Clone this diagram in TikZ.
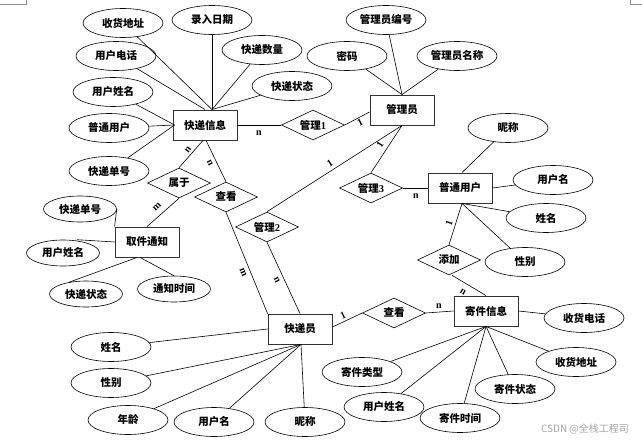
\documentclass[tikz,border=0pt]{standalone}
\usepackage{fontspec}
\setmainfont{Noto Sans CJK SC}
\newfontfamily\lat{Liberation Serif}
\usetikzlibrary{shapes.geometric}
\newcommand\zhf{\fontsize{10.5}{12}\selectfont\bfseries}
\tikzset{
 ent/.style={draw=black!80, line width=0.9pt, minimum width=64pt, minimum height=30pt, inner sep=0pt, font=\zhf},
 rel/.style={diamond, draw, line width=0.6pt, minimum width=63pt, minimum height=30pt, aspect=2.1, inner sep=0pt, font=\zhf},
 attr/.style={ellipse, draw, line width=0.6pt, minimum width=80pt, minimum height=29pt, inner sep=0pt, font=\zhf},
 attrs/.style={attr, minimum width=73pt, minimum height=26pt},
 lnk/.style={line width=0.6pt},
 card/.style={font=\lat\bfseries\fontsize{10}{10}\selectfont, inner sep=0pt},
 cornermk/.style={draw=black!45, line width=0.6pt},
}
\begin{document}
\begin{tikzpicture}[x=1pt,y=-1pt]
\useasboundingbox (0,0) rectangle (642,441);
\fill[white] (0,0) rectangle (642,441);
% corner marks
\draw[cornermk] (0,4) -- (26,4) -- (26,0);
\draw[cornermk] (630,0) -- (630,4.5) -- (642,4.5);
% entities
\node[ent] (kdxx) at (205,125) {快递信息};
\node[ent] (gly) at (402,110) {管理员};
\node[ent] (ptyh) at (460,188) {普通用户};
\node[ent] (jjxx) at (486,311) {寄件信息};
\node[ent] (kdy) at (300,329) {快递员};
\node[ent] (qjtz) at (147,242) {取件通知};
% relations
\node[rel] (gl1) at (313,125) {管理{\lat 1}};
\node[rel] (gl3) at (371,188) {管理{\lat 3}};
\node[rel] (gl2) at (267,227) {管理{\lat 2}};
\node[rel] (sy) at (179,183) {属于};
\node[rel] (ck1) at (226,197) {查看};
\node[rel] (ck2) at (394,313) {查看};
\node[rel] (tj) at (449,260) {添加};
% attributes
\node[attr] (a1) at (123,23) {收货地址};
\node[attr] (a2) at (212,20) {录入日期};
\node[attr] (a3) at (262,50) {快递数量};
\node[attr] (a4) at (116,56) {用户电话};
\node[attr] (a5) at (292,86) {快递状态};
\node[attr] (a6) at (113,92) {用户姓名};
\node[attr] (a7) at (109,128) {普通用户};
\node[attr] (a8) at (109,171) {快递单号};
\node[attr] (b1) at (386,20) {管理员编号};
\node[attr] (b2) at (347,56) {密码};
\node[attr] (b3) at (457,56) {管理员名称};
\node[attr] (c1) at (508,128) {昵称};
\node[attr] (c2) at (553,180) {用户名};
\node[attr] (c3) at (546,218) {姓名};
\node[attr] (c4) at (525,262) {性别};
\node[attr] (d1) at (584,318) {收货电话};
\node[attr] (d2) at (576,362) {收货地址};
\node[attr] (d3) at (515,389) {寄件状态};
\node[attr] (d4) at (460,418) {寄件时间};
\node[attr] (d5) at (384,407) {用户姓名};
\node[attr] (d6) at (362,372) {寄件类型};
\node[attr] (e1) at (111,347) {姓名};
\node[attr] (e2) at (111,383) {性别};
\node[attr] (e3) at (128,420) {年龄};
\node[attr] (e4) at (214,422) {用户名};
\node[attr] (e5) at (305,422) {昵称};
\node[attrs] (f1) at (80,209) {快递单号};
\node[attrs] (f2) at (63,253) {用户姓名};
\node[attrs] (f3) at (86,294) {快递状态};
\node[attrs] (f4) at (174,289) {通知时间};
% attribute links
\coordinate (kt) at ([xshift=7pt]kdxx.north);
\foreach \a in {a1,a2,a3,a5} \draw[lnk] (\a) -- (kt);
\draw[lnk] (a4) -- (kdxx.north);
\foreach \a in {a6,a7,a8} \draw[lnk] (\a) -- ([xshift=2pt]kdxx.west);
\foreach \a in {b1,b2,b3} \draw[lnk] (\a) -- (gly.north);
\draw[lnk] (c1) -- ([xshift=2pt]ptyh.north);
\draw[lnk] (c2) -- (ptyh.east);
\foreach \a in {c3,c4} \draw[lnk] ([xshift=2pt]ptyh.south) -- (\a);
\draw[lnk] (jjxx.east) -- (d1);
\foreach \a in {d2,d3,d4,d5,d6} \draw[lnk] (jjxx.south) -- (\a);
\draw[lnk] (e1) -- (kdy.west);
\foreach \a in {e2,e3,e4,e5} \draw[lnk] (\a) -- ([xshift=1pt]kdy.south);
\draw[lnk] (f1.east) -- (qjtz.north west);
\draw[lnk] ([xshift=14pt]f2.north) -- (qjtz.west);
\draw[lnk] (f3.145) -- ([xshift=-10pt]qjtz.south);
\draw[lnk] (f4.north) -- ([xshift=-7pt]qjtz.south);
% relationship links
\draw[lnk] (kdxx.east) -- (gl1.west);
\draw[lnk] (gl1.east) -- ([yshift=-2pt]gly.west);
\draw[lnk] (gly.south) -- (gl3.north);
\draw[lnk] (gly.south) -- (gl2.north);
\draw[lnk] (gl3.east) -- (ptyh.west);
\draw[lnk] ([xshift=2pt]ptyh.south) -- (tj.north);
\draw[lnk] ([xshift=3pt]tj.south) -- (jjxx.north);
\draw[lnk] (ck2.east) -- (jjxx.west);
\draw[lnk] ([yshift=2pt]kdy.east) -- (ck2.west);
\draw[lnk] ([xshift=-2pt]kdxx.south) -- (sy.north);
\draw[lnk] ([xshift=1pt]kdxx.south) -- (ck1.north);
\draw[lnk] (sy.south) -- (qjtz.north);
\draw[lnk] (ck1.south) -- (kdy.north west);
\draw[lnk] (gl2.south) -- (kdy.north);
% cardinalities
\node[card] (n1) at (259,133) {n};
\node[card, rotate=27] (n2) at (360,122) {1};
\node[card, rotate=57] (n3) at (380,145) {1};
\node[card, rotate=33] (n4) at (330,163) {1};
\node[card] (n5) at (416,196) {n};
\node[card, rotate=72] (n6) at (449,223) {1};
\node[card, rotate=-32] (n7) at (463,292) {n};
\node[card] (n8) at (439,306) {n};
\node[card, rotate=24] (n9) at (343,315) {1};
\node[card, rotate=50] (n10) at (188,150) {n};
\node[card, rotate=-63] (n11) at (210,163) {n};
\node[card, rotate=43] (n12) at (157,207) {m};
\node[card, rotate=-68] (n13) at (243,272) {m};
\node[card, rotate=-65] (n14) at (277,280) {n};
% watermark
\node[font=\fontsize{10}{10}\selectfont, text=black!35, inner sep=0pt] (wm) at (585,429) {CSDN @全栈工程司};
\end{tikzpicture}
\end{document}
